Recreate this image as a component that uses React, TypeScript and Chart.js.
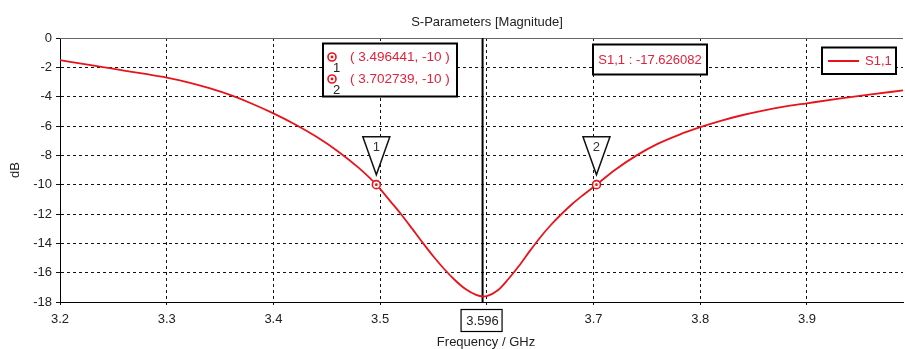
import React, { useEffect, useRef } from 'react';
import { Chart, registerables } from 'chart.js';

Chart.register(...registerables);

// ---- data ----
const freqGHz = [
  3.2, 3.22, 3.24, 3.26, 3.28, 3.3, 3.32, 3.34, 3.36, 3.38, 3.4, 3.42, 3.44, 3.46, 3.48,
  3.496441, 3.51, 3.52, 3.53, 3.54, 3.55, 3.56, 3.57, 3.58, 3.59, 3.596, 3.6, 3.61, 3.62,
  3.63, 3.64, 3.65, 3.66, 3.67, 3.68, 3.69, 3.702739, 3.72, 3.74, 3.76, 3.78, 3.8, 3.82,
  3.84, 3.86, 3.88, 3.9, 3.93, 3.96, 3.99,
];
const s11dB = [
  -1.51, -1.74, -1.98, -2.22, -2.45, -2.7, -3.02, -3.42, -3.9, -4.48, -5.14, -5.88, -6.72, -7.7, -8.86,
  -10.0, -11.17, -12.05, -13.0, -13.97, -14.9, -15.75, -16.5, -17.12, -17.52, -17.626, -17.6, -17.22, -16.45,
  -15.55, -14.55, -13.6, -12.75, -12.0, -11.32, -10.72, -10.0, -9.0, -8.02, -7.22, -6.6, -6.08, -5.63,
  -5.25, -4.93, -4.66, -4.45, -4.14, -3.85, -3.57,
];
const xTickValues = [3.2, 3.3, 3.4, 3.5, 3.6, 3.7, 3.8, 3.9];
const yTickValues = [-18, -16, -14, -12, -10, -8, -6, -4, -2, 0];
const markerFreqs = [3.496441, 3.702739];
const markerValues = [-10, -10];
const markerLabels = ['1', '2'];
const minFreq = 3.596;
const minValue = -17.626082;
const xMin = 3.2;
const xMax = 3.99;
const yMin = -18;
const yMax = 0;
const chartTitle = 'S-Parameters [Magnitude]';
const xAxisTitle = 'Frequency / GHz';
const yAxisTitle = 'dB';
const seriesName = 'S1,1';

const RED = '#e8141c';
const TEXT_RED = '#e4203a';
const FONT = '"Liberation Sans", Arial, sans-serif';

function ring(ctx: CanvasRenderingContext2D, cx: number, cy: number) {
  ctx.beginPath();
  ctx.arc(cx, cy, 4, 0, Math.PI * 2);
  ctx.fillStyle = '#fff';
  ctx.fill();
  ctx.lineWidth = 1.6;
  ctx.strokeStyle = RED;
  ctx.stroke();
  ctx.beginPath();
  ctx.arc(cx, cy, 1.4, 0, Math.PI * 2);
  ctx.fillStyle = RED;
  ctx.fill();
}

function box(ctx: CanvasRenderingContext2D, x: number, y: number, w: number, h: number, lw = 2) {
  ctx.fillStyle = '#fff';
  ctx.fillRect(x, y, w, h);
  ctx.lineWidth = lw;
  ctx.strokeStyle = '#000';
  ctx.strokeRect(x, y, w, h);
}

const overlay = {
  id: 'overlay',
  beforeDatasetsDraw(chart: any) {
    const { ctx, chartArea, scales } = chart;
    const { top, bottom, left, right } = chartArea;
    ctx.save();
    ctx.strokeStyle = '#666';
    ctx.lineWidth = 1;
    ctx.beginPath();
    ctx.moveTo(left, Math.round(top) + 0.5);
    ctx.lineTo(right, Math.round(top) + 0.5);
    ctx.stroke();
    const mx = scales.x.getPixelForValue(minFreq);
    ctx.strokeStyle = '#000';
    ctx.lineWidth = 2;
    ctx.beginPath();
    ctx.moveTo(mx, top);
    ctx.lineTo(mx, bottom);
    ctx.stroke();
    ctx.restore();
  },
  afterDraw(chart: any) {
    const { ctx, chartArea, scales } = chart;
    const { top, bottom } = chartArea;
    const xs = scales.x;
    const ys = scales.y;
    ctx.save();
    ctx.font = `13px ${FONT}`;
    ctx.textBaseline = 'middle';
    ctx.textAlign = 'center';
    ctx.fillStyle = '#222';
    // title
    ctx.fillText(chartTitle, 487, 22);
    // x title
    ctx.fillText(xAxisTitle, 486, 342);
    // y title
    ctx.save();
    ctx.translate(15, (top + bottom) / 2);
    ctx.rotate(-Math.PI / 2);
    ctx.fillText(yAxisTitle, 0, 0);
    ctx.restore();

    // markers on curve with triangles
    markerFreqs.forEach((f, i) => {
      const px = xs.getPixelForValue(f);
      const py = ys.getPixelForValue(markerValues[i]);
      ctx.beginPath();
      ctx.moveTo(px, py - 10);
      ctx.lineTo(px - 13.5, py - 48);
      ctx.lineTo(px + 13.5, py - 48);
      ctx.closePath();
      ctx.fillStyle = '#fff';
      ctx.fill();
      ctx.lineWidth = 1.5;
      ctx.strokeStyle = '#111';
      ctx.stroke();
      ctx.fillStyle = '#333';
      ctx.textAlign = 'center';
      ctx.fillText(markerLabels[i], px, py - 37);
      ring(ctx, px, py);
    });

    // marker list box
    box(ctx, 323, 43.5, 134, 53);
    markerFreqs.forEach((f, i) => {
      const ly = 57 + i * 22;
      ring(ctx, 332, ly);
      ctx.fillStyle = '#222';
      ctx.textAlign = 'center';
      ctx.fillText(markerLabels[i], 336.5, ly + 11);
      ctx.fillStyle = TEXT_RED;
      ctx.textAlign = 'left';
      ctx.font = `13.5px ${FONT}`;
      ctx.fillText(`( ${f}, ${markerValues[i]} )`, 350, ly);
      ctx.font = `13px ${FONT}`;
    });

    // minimum value box
    box(ctx, 593, 44.5, 114, 30);
    ctx.fillStyle = TEXT_RED;
    ctx.textAlign = 'center';
    ctx.fillText(`${seriesName} : ${minValue}`, 650, 60);

    // legend box
    box(ctx, 822, 47.5, 74, 26.5);
    ctx.strokeStyle = RED;
    ctx.lineWidth = 2;
    ctx.beginPath();
    ctx.moveTo(828, 61);
    ctx.lineTo(859, 61);
    ctx.stroke();
    ctx.fillStyle = TEXT_RED;
    ctx.textAlign = 'left';
    ctx.fillText(seriesName, 865, 61);

    // frequency label box at minimum
    const mx = xs.getPixelForValue(minFreq);
    box(ctx, mx - 21.5, 309.5, 41, 22, 1.2);
    ctx.fillStyle = '#222';
    ctx.textAlign = 'center';
    ctx.fillText(String(minFreq), mx, 321);
    ctx.restore();
  },
};

export default function App() {
  const ref = useRef<HTMLCanvasElement>(null);
  useEffect(() => {
    if (!ref.current) return;
    const chart = new Chart(ref.current, {
      type: 'line',
      data: {
        datasets: [
          {
            label: seriesName,
            data: freqGHz.map((f, i) => ({ x: f, y: s11dB[i] })),
            borderColor: RED,
            borderWidth: 1.8,
            pointRadius: 0,
            cubicInterpolationMode: 'monotone',
            fill: false,
          },
        ],
      },
      options: {
        animation: false,
        responsive: false,
        devicePixelRatio: 1,
        layout: { padding: { top: 38, right: 2, left: 0, bottom: 0 } },
        plugins: { legend: { display: false }, title: { display: false }, tooltip: { enabled: false } },
        scales: {
          x: {
            type: 'linear',
            min: xMin,
            max: xMax,
            afterBuildTicks: (s: any) => {
              s.ticks = xTickValues.map((v) => ({ value: v }));
            },
            afterFit: (s: any) => {
              s.height = 47;
            },
            ticks: {
              autoSkip: false,
              maxRotation: 0,
              padding: 6,
              color: '#222',
              font: { family: FONT, size: 13 },
              callback: (v: any) => (Math.abs(v - 3.6) < 1e-6 ? '' : Number(v).toFixed(1)),
            },
            grid: {
              color: '#111',
              lineWidth: 1,
              tickLength: 4,
              tickColor: '#111',
              tickBorderDash: [2, 2],
            },
            border: { display: true, color: '#000', width: 1, dash: [3, 3] },
          },
          y: {
            type: 'linear',
            min: yMin,
            max: yMax,
            afterBuildTicks: (s: any) => {
              s.ticks = yTickValues.map((v) => ({ value: v }));
            },
            afterFit: (s: any) => {
              s.width = 60;
            },
            ticks: {
              autoSkip: false,
              padding: 4,
              color: '#222',
              font: { family: FONT, size: 13 },
              callback: (v: any) => String(Math.round(v)),
            },
            grid: {
              color: (c: any) => (c.tick && c.tick.value === 0 ? 'rgba(0,0,0,0)' : '#111'),
              lineWidth: 1,
              tickLength: 4,
              tickColor: '#111',
              tickBorderDash: [],
            },
            border: { display: true, color: '#000', width: 1, dash: [3, 3] },
          },
        },
      } as any,
      plugins: [overlay],
    });
    return () => chart.destroy();
  }, []);
  return (
    <div style={{ position: 'fixed', left: 0, top: 0, width: 905, height: 349, background: '#fff' }}>
      <canvas ref={ref} width={905} height={349} />
    </div>
  );
}
